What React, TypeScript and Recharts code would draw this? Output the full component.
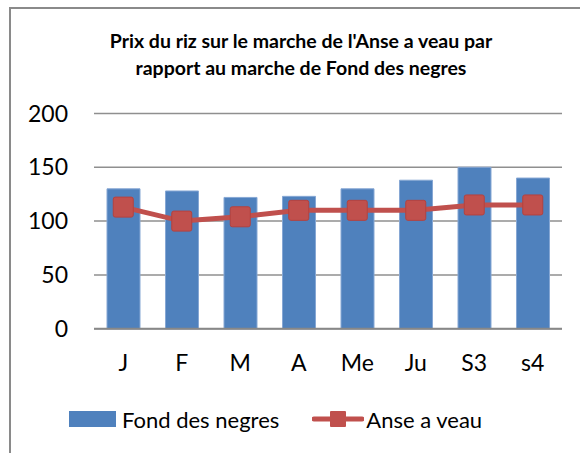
import React from "react";
import {
  ComposedChart,
  Bar,
  Line,
  XAxis,
  YAxis,
  CartesianGrid,
  Legend,
} from "recharts";

const categories = ["J", "F", "M", "A", "Me", "Ju", "S3", "s4"];
const fondDesNegres = [130, 128, 122, 123, 130, 138, 150, 140];
const anseAVeau = [113, 100, 104, 110, 110, 110, 115, 115];
const yTicks = [0, 50, 100, 150, 200];
const titleLines = [
  "Prix du riz sur le marche de l'Anse a veau par",
  "rapport au marche de Fond des negres",
];
const legendOrder = ["fond", "anse"];

const data = categories.map((c, i) => ({
  name: c,
  fond: fondDesNegres[i],
  anse: anseAVeau[i],
}));

const FONT = "Lato, 'Open Sans', sans-serif";
const BLUE = "#4F81BD";
const RED = "#C0504D";

const SquareDot = (props: any) => {
  const { cx, cy } = props;
  if (cx == null || cy == null) return null;
  const s = 20;
  return (
    <rect
      x={cx - s / 2}
      y={cy - s / 2}
      width={s}
      height={s}
      rx={2}
      fill={RED}
      stroke="#b5413e"
      strokeWidth={1}
    />
  );
};

const LegendContent = (props: any) => {
  const payload = [...(props.payload || [])].sort(
    (a: any, b: any) =>
      legendOrder.indexOf(a.dataKey) - legendOrder.indexOf(b.dataKey)
  );
  return (
    <div
      style={{
        display: "flex",
        alignItems: "center",
        height: 40,
        paddingLeft: 69,
        fontFamily: FONT,
        fontSize: 22,
        color: "#000",
      }}
    >
      {payload.map((p: any) => (
        <div
          key={p.value}
          style={{ display: "flex", alignItems: "center", marginRight: 33 }}
        >
          {p.dataKey === "fond" ? (
            <svg width={47} height={16} style={{ marginRight: 6 }}>
              <rect x={0} y={0} width={47} height={16} fill={BLUE} />
            </svg>
          ) : (
            <svg width={52} height={20} style={{ marginRight: 2 }}>
              <line
                x1={2}
                y1={10}
                x2={50}
                y2={10}
                stroke={RED}
                strokeWidth={5}
                strokeLinecap="round"
              />
              <rect x={18} y={2} width={16} height={16} rx={1} fill={RED} />
            </svg>
          )}
          <span>{p.value}</span>
        </div>
      ))}
    </div>
  );
};

export default function App() {
  return (
    <div
      style={{
        position: "absolute",
        left: 0,
        top: 0,
        width: 580,
        height: 453,
        background: "#fff",
        overflow: "hidden",
      }}
    >
      <div
        style={{
          position: "absolute",
          left: 9,
          top: 7,
          width: 600,
          height: 500,
          borderLeft: "2px solid #8a8a8a",
          borderTop: "2px solid #8a8a8a",
        }}
      />
      <div
        style={{
          position: "absolute",
          left: 0,
          top: 27,
          width: 602,
          textAlign: "center",
          fontFamily: FONT,
          fontWeight: "bold",
          fontSize: 19.5,
          lineHeight: "27px",
          color: "#000",
        }}
      >
        {titleLines.map((t) => (
          <div key={t}>{t}</div>
        ))}
      </div>
      <div style={{ position: "absolute", left: 0, top: 0 }}>
        <ComposedChart
          width={580}
          height={453}
          data={data}
          margin={{ top: 113.5, right: 18, left: 0, bottom: 50.3 }}
          barCategoryGap="43%"
        >
          <CartesianGrid
            vertical={false}
            stroke="#8f8f8f"
            strokeWidth={1.5}
          />
          <XAxis
            dataKey="name"
            height={34}
            tickLine={false}
            tickSize={0}
            tickMargin={26}
            axisLine={{ stroke: "#888", strokeWidth: 2 }}
            tick={{ fill: "#000", fontSize: 23, fontFamily: FONT }}
          />
          <YAxis
            width={94}
            domain={[0, 200]}
            ticks={yTicks}
            interval={0}
            tickLine={false}
            tickSize={0}
            tickMargin={26}
            axisLine={false}
            tick={{ fill: "#000", fontSize: 23, fontFamily: FONT }}
          />
          <Legend
            verticalAlign="bottom"
            content={<LegendContent />}
            wrapperStyle={{
              top: 399,
              bottom: "auto",
              left: 0,
              width: 580,
              height: 40,
            }}
          />
          <Bar
            dataKey="fond"
            name="Fond des negres"
            fill={BLUE}
            stroke="#86a7d4"
            strokeWidth={1}
            barSize={33}
            isAnimationActive={false}
          />
          <Line
            dataKey="anse"
            name="Anse a veau"
            stroke={RED}
            strokeWidth={5}
            dot={<SquareDot />}
            activeDot={false}
            isAnimationActive={false}
          />
        </ComposedChart>
      </div>
    </div>
  );
}
